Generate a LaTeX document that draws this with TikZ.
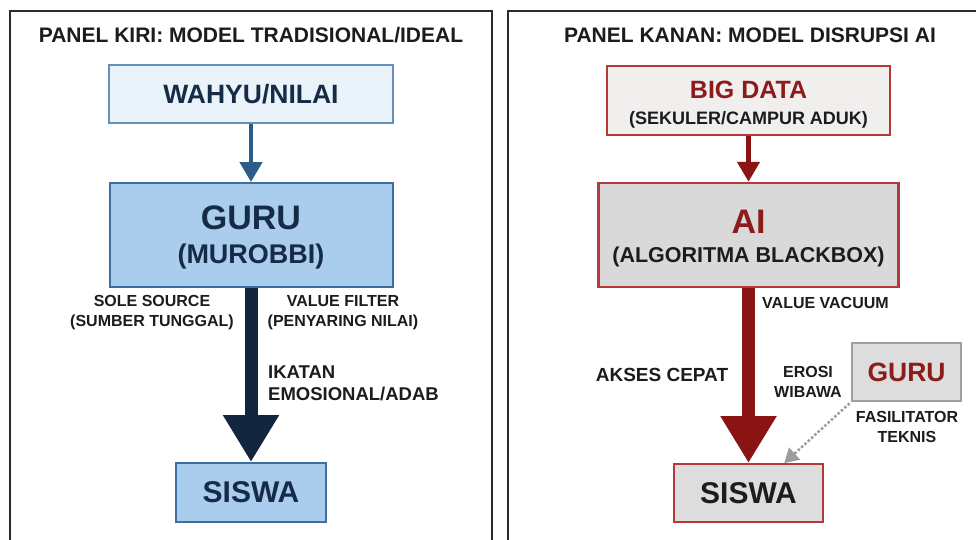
\documentclass[tikz,border=0pt]{standalone}
\usepackage{fontspec}
\setmainfont{Liberation Sans}
\usepackage{xcolor}
\usetikzlibrary{arrows.meta,positioning}

\definecolor{frameline}{HTML}{2B2B2B}
\definecolor{inkdark}{HTML}{1C1C1C}
\definecolor{palefill}{HTML}{EAF3FA}
\definecolor{paleline}{HTML}{6690B8}
\definecolor{bluefill}{HTML}{AACDEE}
\definecolor{blueline}{HTML}{3D6E9D}
\definecolor{navytext}{HTML}{152B47}
\definecolor{arrowblue}{HTML}{2C5C8A}
\definecolor{arrownavy}{HTML}{13263F}
\definecolor{pinkfill}{HTML}{F1EEEE}
\definecolor{redline}{HTML}{B43A3A}
\definecolor{aifill}{HTML}{D9D9D9}
\definecolor{grayfill}{HTML}{DDDDDD}
\definecolor{mutedline}{HTML}{A89C9C}
\definecolor{darkred}{HTML}{8E1B1B}
\definecolor{arrowred}{HTML}{8A1414}
\definecolor{hintgray}{HTML}{9C9C9C}

\newcommand\fsz[2]{\fontsize{#1}{#2}\selectfont\bfseries}

\begin{document}
\begin{tikzpicture}
[x=1pt,y=-1pt,
node distance=141pt,
title/.style={font=\fsz{21}{25}, text=inkdark},
blue box/.style={draw=blueline, line width=2pt, fill=bluefill, text=navytext, inner sep=0pt},
pale box/.style={blue box, draw=paleline, fill=palefill},
red box/.style={draw=redline, line width=2pt, fill=grayfill, text=inkdark, inner sep=0pt},
note/.style={font=\fsz{16}{20}, text=inkdark, align=center, inner sep=0pt},
thin arrow/.style={-{Triangle[width=22pt,length=20pt]}, line width=4.5pt},
thick arrow/.style={-{Triangle[width=53pt,length=47pt]}, line width=13pt},
hint arrow/.style={-{Triangle[width=16pt,length=14pt]}, line width=2.5pt, dash pattern=on 2.5pt off 2pt, draw=hintgray}]

  \useasboundingbox (0,0) rectangle (976,539);
  \fill[white] (0,0) rectangle (976,539);

  % panels
  \draw[frameline, line width=2pt] (10,545) |- (492,11) -- (492,545);
  \draw[frameline, line width=2pt] (508,545) |- (990,11);

  \node[title] (kiri) at (251,35.5) {PANEL KIRI: MODEL TRADISIONAL/IDEAL};
  \node[title] (kanan) at (750,35.5) {PANEL KANAN: MODEL DISRUPSI AI};

  % model tradisional
  \node[pale box, minimum width=284pt, minimum height=58pt, font=\fsz{26.5}{30}] (wahyu) at (251,94) {WAHYU/NILAI};
  \node[blue box, minimum width=283pt, minimum height=104pt, align=center, font=\fsz{27}{34}] (guru) [below of = wahyu] {{\fsz{34}{34}\rule{0pt}{28pt}GURU}\\(MUROBBI)};
  \node[blue box, minimum width=150pt, minimum height=59pt, font=\fsz{30}{34}] (siswa) [below of = guru, node distance=257.5pt] {SISWA};

  \node[note] (sole) at (152,313) {SOLE SOURCE\\(SUMBER TUNGGAL)};
  \node[note] (filter) at (343,313) {VALUE FILTER\\(PENYARING NILAI)};
  \node[note, font=\fsz{18.5}{22}, align=left, anchor=west] (ikatan) at (268,383.5) {IKATAN\\EMOSIONAL/ADAB};

  \path
    (wahyu) edge[thin arrow, draw=arrowblue] (guru)
    (guru) edge[thick arrow, draw=arrownavy] (siswa);

  % model disrupsi
  \node[red box, draw=redline, fill=pinkfill, minimum width=283pt, minimum height=69pt, align=center, font=\fsz{18}{26}] (data) at (748.5,100.5) {{\fsz{25}{26}\color{darkred}\rule{0pt}{25pt}BIG DATA}\\(SEKULER/CAMPUR ADUK)};
  \node[red box, fill=aifill, line width=2.5pt, minimum width=300pt, minimum height=104pt, align=center, font=\fsz{21.5}{29}] (ai) [below of = data, node distance=134.5pt] {{\fsz{34}{29}\color{darkred}\rule{0pt}{30pt}AI}\\(ALGORITMA BLACKBOX)};
  \node[red box, minimum width=149pt, minimum height=58pt, font=\fsz{30}{34}] (siswakanan) [below of = ai, node distance=258pt] {SISWA};
  \node[red box, draw=mutedline, minimum width=109pt, minimum height=58pt, font=\fsz{26.5}{30}, text=darkred] (gurukanan) at (906.5,372) {GURU};

  \node[note, anchor=west] (vacuum) at (762,303) {VALUE VACUUM};
  \node[note, font=\fsz{19}{22}] (akses) at (662,375) {AKSES CEPAT};
  \node[note] (erosi) at (808,382) {EROSI\\WIBAWA};
  \node[note] (fasil) at (907,427) {FASILITATOR\\TEKNIS};

  \path
    (data) edge[thin arrow, draw=arrowred] (ai)
    (ai) edge[thick arrow, draw=arrowred] (siswakanan)
    (gurukanan.south west) edge[hint arrow, shorten <=2pt] (siswakanan.40);

\end{tikzpicture}
\end{document}
